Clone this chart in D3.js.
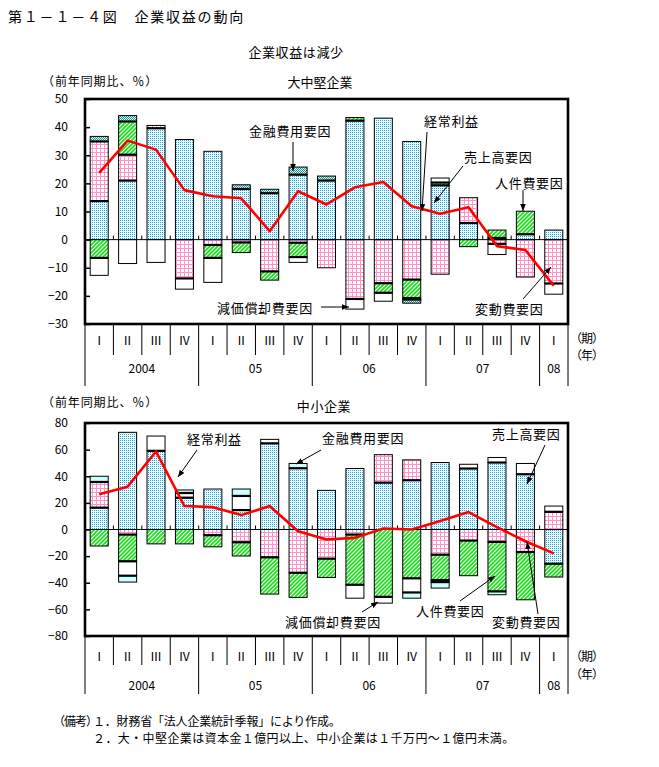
<!DOCTYPE html>
<html><head><meta charset="utf-8">
<script src="https://cdn.jsdelivr.net/npm/d3@7"></script>
<style>body{margin:0;background:#fff}svg text{font-family:"Noto Sans CJK JP","Noto Sans",sans-serif;fill:#000}</style>
</head><body><svg id="c" width="659" height="767"></svg>
<script>
// ---------- data ----------
const quarters = ["Ⅰ","Ⅱ","Ⅲ","Ⅳ","Ⅰ","Ⅱ","Ⅲ","Ⅳ","Ⅰ","Ⅱ","Ⅲ","Ⅳ","Ⅰ","Ⅱ","Ⅲ","Ⅳ","Ⅰ"];
const yearLabels = ["2004","05","06","07","08"];
const yearSpans = [4,4,4,4,1];
const factorNames = ["売上高要因","変動費要因","人件費要因","減価償却費要因","金融費用要因"];

// 大中堅企業
const largeSales       = [13.7,21.0,39.6,35.6,31.4,18.0,16.5,23.1,21.0,42.3,43.2,34.9,19.3,5.9,0.6,1.9,3.4];
const largeVariable    = [21.2,9.2,1.0,-13.8,-1.9,-1.0,-11.3,-1.1,-10.0,-21.1,-15.5,-14.2,-12.3,9.0,-1.5,-13.3,-15.6];
const largePersonnel   = [-6.5,11.8,0,0,-4.6,-3.6,-3.1,-5.1,0,1.1,-3.4,-6.6,1.0,-2.5,2.8,8.2,0];
const largeDeprec      = [-6.2,-8.5,-8.1,-3.8,-8.7,0,0,-1.9,0,-3.6,-3.0,-0.5,1.6,0,-3.8,0,-3.8];
const largeFinancial   = [1.8,2.1,0,0,0,1.5,1.4,2.7,1.6,0,0,-1.3,0,0,0,0,0];
const largeProfit      = [23.7,35.2,32.0,17.6,15.4,14.7,3.0,17.2,12.5,18.6,20.5,11.9,9.2,11.5,-2.3,-3.7,-16.4];
const largeTicks       = [50,40,30,20,10,0,-10,-20,-30];

// 中小企業
const smallSales       = [16.4,73.0,59.1,23.9,30.4,14.6,64.7,46.0,29.4,45.8,35.2,37.0,50.3,45.8,50.3,41.5,-25.7];
const smallVariable    = [19.3,-3.8,0,0,-4.3,-9.6,-20.9,-32.5,-21.9,-3.8,21.0,15.3,-18.9,-8.3,-9.3,-16.9,13.3];
const smallPersonnel   = [-12.4,-20.1,-10.8,-10.8,-8.7,-10.3,-27.6,-18.5,-14.1,-37.7,-50.6,-36.7,-19.1,-26.4,-37.2,-35.9,-10.0];
const smallDeprec      = [0,-10.8,11.1,3.5,0,10.6,3.0,0,0,-10.1,-4.7,-10.6,-1.5,3.2,3.8,8.1,4.3];
const smallFinancial   = [4.3,-4.8,0,2.3,0,5.2,0,3.6,0,0,0,-4.3,-4.5,0,-2.5,0,0];
const smallProfit      = [26.4,32.2,58.6,17.6,16.8,10.8,17.6,-1.3,-7.5,-6.3,0.8,0,6.3,13.1,1.8,-8.8,-17.9];
const smallTicks       = [80,60,40,20,0,-20,-40,-60,-80];

// ---------- drawing ----------
const svg = d3.select("#c");
const defs = svg.append("defs");
function pattern(id,w,h,bg,fn){
  const p = defs.append("pattern").attr("id",id).attr("patternUnits","userSpaceOnUse").attr("width",w).attr("height",h);
  p.append("rect").attr("width",w).attr("height",h).attr("fill",bg);
  fn(p);
}
pattern("pSales",2,2,"#fff",p=>{
  p.append("rect").attr("x",0).attr("y",0).attr("width",1).attr("height",1).attr("fill","#10aaf0");
  p.append("rect").attr("x",1).attr("y",1).attr("width",1).attr("height",1).attr("fill","#e0f6ff");
});
pattern("pVar",4,4,"#fff",p=>{
  p.append("rect").attr("x",0).attr("y",0).attr("width",4).attr("height",1).attr("fill","#ff90c8");
  p.append("rect").attr("x",0).attr("y",0).attr("width",1).attr("height",4).attr("fill","#ff90c8");
});
pattern("pPers",4,4,"#fff",p=>{
  p.append("path").attr("d","M-1,5L5,-1M-1,1L1,-1M3,5L5,3").attr("stroke","#1fdc1f").attr("stroke-width",1.7);
});
pattern("pFinL",2,2,"#d6fbfb",p=>{
  p.append("rect").attr("x",0).attr("y",0).attr("width",1).attr("height",1).attr("fill","#2a8f8f");
  p.append("rect").attr("x",1).attr("y",1).attr("width",1).attr("height",1).attr("fill","#2a8f8f");
});
defs.append("marker").attr("id","arr").attr("viewBox","0 0 10 10").attr("refX",10).attr("refY",5)
  .attr("markerWidth",7).attr("markerHeight",7).attr("markerUnits","userSpaceOnUse").attr("orient","auto")
  .append("path").attr("d","M0,1L10,5L0,9Z").attr("fill","#000");

function txt(x,y,s,size,anchor,ls){
  return svg.append("text").attr("x",x).attr("y",y).attr("dy","0.36em").attr("font-size",size)
    .attr("text-anchor",anchor||"start").attr("letter-spacing",ls||0).text(s);
}

txt(8,17,"第１－１－４図　企業収益の動向",14,"start",1.8);
txt(296,52,"企業収益は減少",13,"middle",0.6);
txt(42,82,"（前年同期比、％）",12,"start",0.9);
txt(320,82,"大中堅企業",13,"middle",0);
txt(42,403,"（前年同期比、％）",12,"start",0.9);
txt(324,406,"中小企業",13,"middle",0.6);

function drawPanel(cfg){
  const g = svg.append("g");
  const x = d3.scaleBand().domain(d3.range(quarters.length)).range([85,568]).paddingInner(0.366).paddingOuter(0.183);
  const y = d3.scaleLinear().domain(cfg.domain).range([cfg.bottom,cfg.top]);
  const step = x.step();
  const bnd = i => 85 + i*step;

  // y axis
  const ax = d3.axisLeft(y).tickValues(cfg.ticks).tickSizeInner(-5).tickSizeOuter(0).tickPadding(17);
  const ag = g.append("g").attr("transform","translate(85,0)").call(ax);
  ag.select(".domain").remove();
  ag.selectAll("line").attr("stroke","#000").attr("stroke-width",1.5);
  ag.selectAll("text").attr("font-size",12).attr("font-family","Noto Sans CJK JP");

  // bars
  const series = cfg.series;
  const fills = ["url(#pSales)","url(#pVar)","url(#pPers)","#fff",cfg.finFill];
  quarters.forEach((q,i)=>{
    let pos=0,neg=0; const segs=[];
    series.forEach((arr,k)=>{
      const v=arr[i]; if(!v) return;
      if(v>0){segs.push({k,y0:pos,y1:pos+v,side:1});pos+=v;}
      else {segs.push({k,y0:neg,y1:neg+v,side:-1});neg+=v;}
    });
    const bx=x(i), bw=x.bandwidth();
    segs.forEach(s=>{
      const bot=Math.min(y(s.y0),y(s.y1));
      g.append("rect").attr("x",bx).attr("y",bot).attr("width",bw).attr("height",Math.abs(y(s.y1)-y(s.y0)))
        .attr("fill",fills[s.k]).attr("stroke","#000").attr("stroke-width",1);
    });
    [1,-1].forEach(side=>{
      const ss=segs.filter(s=>s.side===side);
      ss.forEach((s,j)=>{ if(j<ss.length-1){
        g.append("line").attr("x1",bx).attr("x2",bx+bw).attr("y1",y(s.y1)).attr("y2",y(s.y1))
         .attr("stroke","#000").attr("stroke-width",2.2);
      }});
    });
  });

  // zero line and ticks
  g.append("line").attr("x1",85).attr("x2",568).attr("y1",y(0)).attr("y2",y(0)).attr("stroke","#000").attr("stroke-width",1);
  d3.range(1,quarters.length).forEach(i=>{
    g.append("line").attr("x1",bnd(i)).attr("x2",bnd(i)).attr("y1",y(0)).attr("y2",y(0)-4).attr("stroke","#000").attr("stroke-width",1);
  });

  // profit line
  g.append("path").datum(cfg.profit).attr("fill","none").attr("stroke","#ff0000").attr("stroke-width",2.6)
    .attr("stroke-linejoin","round")
    .attr("d",d3.line().x((d,i)=>x(i)+x.bandwidth()/2).y(d=>y(d)));

  // frame
  g.append("rect").attr("x",85).attr("y",cfg.top).attr("width",483).attr("height",cfg.bottom-cfg.top)
    .attr("fill","none").attr("stroke","#000").attr("stroke-width",2.6);

  // category table
  const yb=cfg.bottom;
  const yearBounds=[0]; yearSpans.forEach(s=>yearBounds.push(yearBounds[yearBounds.length-1]+s));
  d3.range(0,quarters.length+1).forEach(i=>{
    const full = yearBounds.includes(i);
    g.append("line").attr("x1",bnd(i)).attr("x2",bnd(i)).attr("y1",yb).attr("y2",yb+(full?cfg.yearH:cfg.qH))
      .attr("stroke","#000").attr("stroke-width",1);
  });
  quarters.forEach((q,i)=>txt(x(i)+x.bandwidth()/2,cfg.qY,q,12,"middle"));
  yearLabels.forEach((l,j)=>txt((bnd(yearBounds[j])+bnd(yearBounds[j+1]))/2,cfg.yY,l,12,"middle"));
  txt(570,cfg.qKY,"（期）",12,"start",-1);
  txt(570,cfg.yKY,"（年）",12,"start",-1);

  // annotations
  cfg.notes.forEach(n=>{
    txt(n.tx,n.ty,n.t,13,"start",0.7);
    g.append("line").attr("x1",n.a[0]).attr("y1",n.a[1]).attr("x2",n.a[2]).attr("y2",n.a[3])
      .attr("stroke","#000").attr("stroke-width",1).attr("marker-end","url(#arr)");
  });
}

drawPanel({
  domain:[-30,50], top:99, bottom:324, ticks:largeTicks,
  series:[largeSales,largeVariable,largePersonnel,largeDeprec,largeFinancial],
  profit:largeProfit, finFill:"url(#pFinL)",
  qH:31, yearH:62, qY:341, yY:369, qKY:339, yKY:356,
  notes:[
    {t:"金融費用要因",tx:249,ty:131,a:[293,142,293,171]},
    {t:"経常利益",tx:424,ty:121,a:[427,132,422,211]},
    {t:"売上高要因",tx:464,ty:157,a:[463,166,434,203]},
    {t:"人件費要因",tx:495,ty:183,a:[523,190,523,211]},
    {t:"変動費要因",tx:475,ty:309,a:[523,299,551,267]},
    {t:"減価償却費要因",tx:217,ty:308,a:[321,307,349,307]}
  ]
});
drawPanel({
  domain:[-80,80], top:423, bottom:636, ticks:smallTicks,
  series:[smallSales,smallVariable,smallPersonnel,smallDeprec,smallFinancial],
  profit:smallProfit, finFill:"#ccffff",
  qH:29, yearH:58, qY:657, yY:686, qKY:657, yKY:675,
  notes:[
    {t:"経常利益",tx:187,ty:439,a:[197,450,178,477]},
    {t:"金融費用要因",tx:322,ty:438,a:[321,450,296,464]},
    {t:"売上高要因",tx:492,ty:434,a:[545,445,527,484]},
    {t:"減価償却費要因",tx:285,ty:622,a:[362,612,378,602]},
    {t:"人件費要因",tx:416,ty:611,a:[460,601,495,576]},
    {t:"変動費要因",tx:492,ty:622,a:[538,614,527,542]}
  ]
});

txt(53,722,"（備考）",12,"start",-1);
txt(93,722,"１．財務省「法人企業統計季報」により作成。",12,"start",-0.2);
txt(93,739,"２．大・中堅企業は資本金１億円以上、中小企業は１千万円～１億円未満。",12,"start",0.4);
</script></body></html>
